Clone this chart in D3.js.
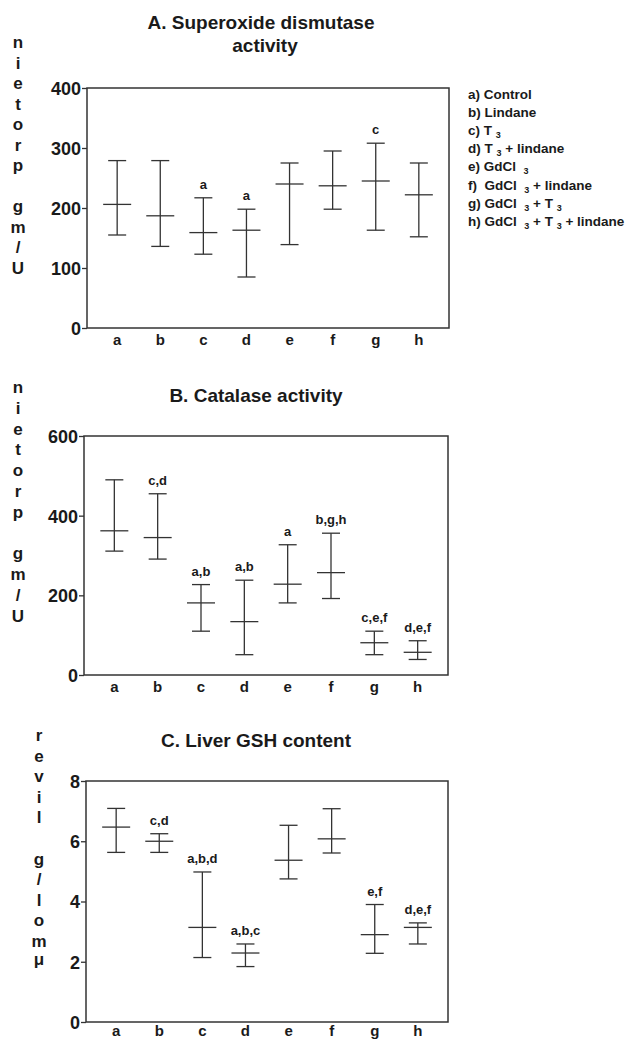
<!DOCTYPE html>
<html>
<head>
<meta charset="utf-8">
<script src="https://cdn.jsdelivr.net/npm/d3@7"></script>
<style>
  body { margin:0; background:#fff; }
  svg { display:block; }
  text { font-family: "Liberation Sans", Arial, sans-serif; font-weight:bold; fill:#1a1a1a; }
  .legend text { white-space: pre; }
</style>
</head>
<body>
<div id="display"></div>
<script>
var groups = ['a','b','c','d','e','f','g','h']

// A. superoxide dismutase (U/mg protein)
var sodMean = [206,187,159,163,240,237,245,222]
var sodLow  = [155,136,123,85,139,198,163,152]
var sodHigh = [279,279,217,198,275,295,308,275]
var sodSig  = ['','','a','a','','','c','']
var sodTicks = [0,100,200,300,400]

// B. catalase (U/mg protein)
var catMean = [362,345,181,134,228,257,81,57]
var catLow  = [311,291,110,51,181,192,51,39]
var catHigh = [490,455,227,238,327,356,110,86]
var catSig  = ['','c,d','a,b','a,b','a','b,g,h','c,e,f','d,e,f']
var catTicks = [0,200,400,600]

// C. liver GSH (µmol/g liver)
var gshMean = [6.47,6.0,3.14,2.29,5.37,6.08,2.9,3.14]
var gshLow  = [5.63,5.63,2.14,1.84,4.75,5.61,2.28,2.59]
var gshHigh = [7.09,6.25,4.98,2.59,6.53,7.08,3.9,3.29]
var gshSig  = ['','c,d','a,b,d','a,b,c','','','e,f','d,e,f']
var gshTicks = [0,2,4,6,8]

// legend entries, parts alternate normal / subscript
var legendItems = [
  ['a) Control'],
  ['b) Lindane'],
  ['c) T ', '3'],
  ['d) T ', '3', ' + lindane'],
  ['e) GdCl  ', '3'],
  ['f)  GdCl  ', '3', ' + lindane'],
  ['g) GdCl  ', '3', ' + T ', '3'],
  ['h) GdCl  ', '3', ' + T ', '3', ' + lindane']
]

var W = 628, H = 1039
var svg = d3.select('#display').append('svg').attr('width',W).attr('height',H)

function panel(opt){
  var g = svg.append('g')
  var x = d3.scalePoint().domain(groups).range([opt.left,opt.right]).padding(0.7)
  var y = d3.scaleLinear().domain([0,opt.max]).range([opt.bottom,opt.top])

  // title
  opt.title.forEach(function(t){
    g.append('text').attr('x',t[1]).attr('y',t[2]).attr('text-anchor','middle')
      .attr('font-size',19).text(t[0])
  })

  // stacked vertical unit label
  opt.ylab.forEach(function(ch,i){
    if (ch == ' ') return
    g.append('text').attr('x',opt.ylabX).attr('y',opt.ylabY + i*opt.ylabStep + (ch=='μ' ? -3 : 0))
      .attr('text-anchor','middle').attr('font-size',17).text(ch)
  })

  // frame
  g.append('rect').attr('x',opt.left).attr('y',opt.top)
    .attr('width',opt.right-opt.left).attr('height',opt.bottom-opt.top)
    .attr('fill','none').attr('stroke','#333').attr('stroke-width',1.5)

  var ax = g.append('g').attr('transform','translate('+opt.left+',0)')
    .call(d3.axisLeft(y).tickValues(opt.ticks).tickSize(5).tickPadding(1).tickFormat(d3.format('d')))
  ax.select('.domain').remove()
  ax.selectAll('line').attr('stroke','#333').attr('stroke-width',1.3)
  ax.selectAll('text').attr('font-size',18).attr('font-family','"Liberation Sans", Arial, sans-serif')
    .attr('font-weight','bold').attr('fill','#1a1a1a').attr('dy','0.36em')

  // category labels
  g.selectAll('.cat').data(groups).enter().append('text')
    .attr('x',function(d){ return x(d) }).attr('y',opt.bottom+opt.catDy)
    .attr('text-anchor','middle').attr('font-size',15).text(function(d){ return d })

  var rows = groups.map(function(d,i){
    return {k:d, m:opt.mean[i], lo:opt.low[i], hi:opt.high[i], s:opt.sig[i]}
  })
  var bars = g.selectAll('.eb').data(rows).enter().append('g')
  bars.append('line')
    .attr('x1',function(d){ return x(d.k) }).attr('x2',function(d){ return x(d.k) })
    .attr('y1',function(d){ return y(d.lo) }).attr('y2',function(d){ return y(d.hi) })
  ;['lo','hi'].forEach(function(key){
    bars.append('line')
      .attr('x1',function(d){ return x(d.k)-9 }).attr('x2',function(d){ return x(d.k)+9 })
      .attr('y1',function(d){ return y(d[key]) }).attr('y2',function(d){ return y(d[key]) })
  })
  bars.append('line')
    .attr('x1',function(d){ return x(d.k)-14 }).attr('x2',function(d){ return x(d.k)+14 })
    .attr('y1',function(d){ return y(d.m) }).attr('y2',function(d){ return y(d.m) })
  bars.selectAll('line').attr('stroke','#333').attr('stroke-width',1.3)

  bars.append('text')
    .attr('x',function(d){ return x(d.k) }).attr('y',function(d){ return y(d.hi)-9 })
    .attr('text-anchor','middle').attr('font-size',13).text(function(d){ return d.s })
}

panel({
  left:87, right:449, top:88, bottom:328, max:400, ticks:sodTicks, catDy:17,
  mean:sodMean, low:sodLow, high:sodHigh, sig:sodSig,
  title:[['A. Superoxide dismutase',261,29],['activity',265,52]],
  ylab:'nietorp gm/U'.split(''), ylabX:18, ylabY:48, ylabStep:20.5
})
panel({
  left:84, right:448, top:436, bottom:675, max:600, ticks:catTicks, catDy:17,
  mean:catMean, low:catLow, high:catHigh, sig:catSig,
  title:[['B. Catalase activity',256,402]],
  ylab:'nietorp gm/U'.split(''), ylabX:18, ylabY:393, ylabStep:20.8
})
panel({
  left:86, right:448, top:781, bottom:1022, max:8, ticks:gshTicks, catDy:14,
  mean:gshMean, low:gshLow, high:gshHigh, sig:gshSig,
  title:[['C. Liver GSH content',256,747]],
  ylab:'revil g/lomμ'.split(''), ylabX:39, ylabY:741, ylabStep:20.6
})

// legend
var leg = svg.append('g').attr('class','legend')
legendItems.forEach(function(parts,i){
  var t = leg.append('text').attr('x',468).attr('y',99 + i*18.1).attr('font-size',13.5)
  parts.forEach(function(p,j){
    var sp = t.append('tspan').text(p)
    if (j % 2 == 1) sp.attr('font-size',9).attr('dy',3)
    else if (j > 0) sp.attr('dy',-3)
  })
})
</script>
</body>
</html>
